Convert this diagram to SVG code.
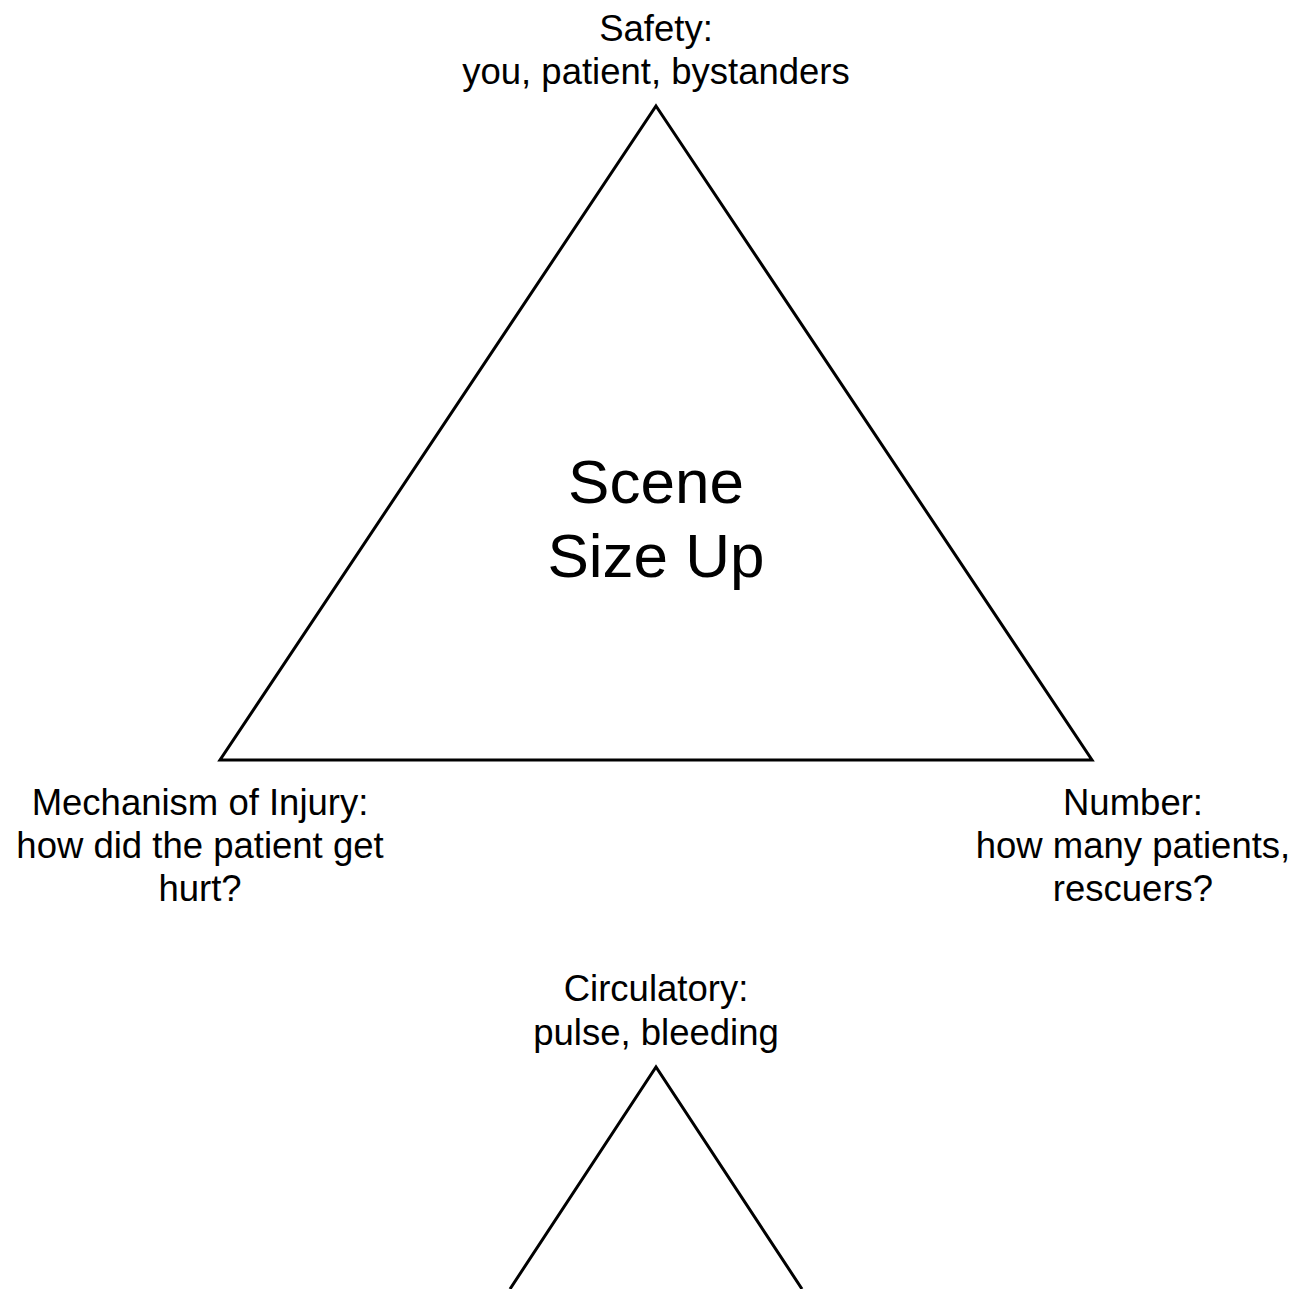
<svg xmlns="http://www.w3.org/2000/svg" width="1298" height="1289" viewBox="0 0 1298 1289">
<style>
.tri{fill:none;stroke:#000;stroke-width:3;stroke-linejoin:miter}
.lbl{font-family:"Liberation Sans",Arial,sans-serif;font-size:36.5px;fill:#000;text-anchor:middle}
.big{font-family:"Liberation Sans",Arial,sans-serif;font-size:62px;fill:#000;text-anchor:middle}
</style>
<rect width="1298" height="1289" fill="#fff"/>
<g id="scene-triangle">
<polygon class="tri" points="656,106 1092,760 220,760"/>
<text class="big" x="656" y="503">Scene</text>
<text class="big" x="656" y="577">Size Up</text>
</g>
<g id="safety">
<text class="lbl" x="656" y="41">Safety:</text>
<text class="lbl" x="656" y="84">you, patient, bystanders</text>
</g>
<g id="mechanism">
<text class="lbl" x="200" y="815">Mechanism of Injury:</text>
<text class="lbl" x="200" y="858">how did the patient get</text>
<text class="lbl" x="200" y="901">hurt?</text>
</g>
<g id="number">
<text class="lbl" x="1133" y="815">Number:</text>
<text class="lbl" x="1133" y="858">how many patients,</text>
<text class="lbl" x="1133" y="901">rescuers?</text>
</g>
<g id="circulatory">
<text class="lbl" x="656" y="1001">Circulatory:</text>
<text class="lbl" x="656" y="1045">pulse, bleeding</text>
<polyline class="tri" points="510,1289 656,1067 802,1289"/>
</g>
<g id="connectors"></g>
</svg>
